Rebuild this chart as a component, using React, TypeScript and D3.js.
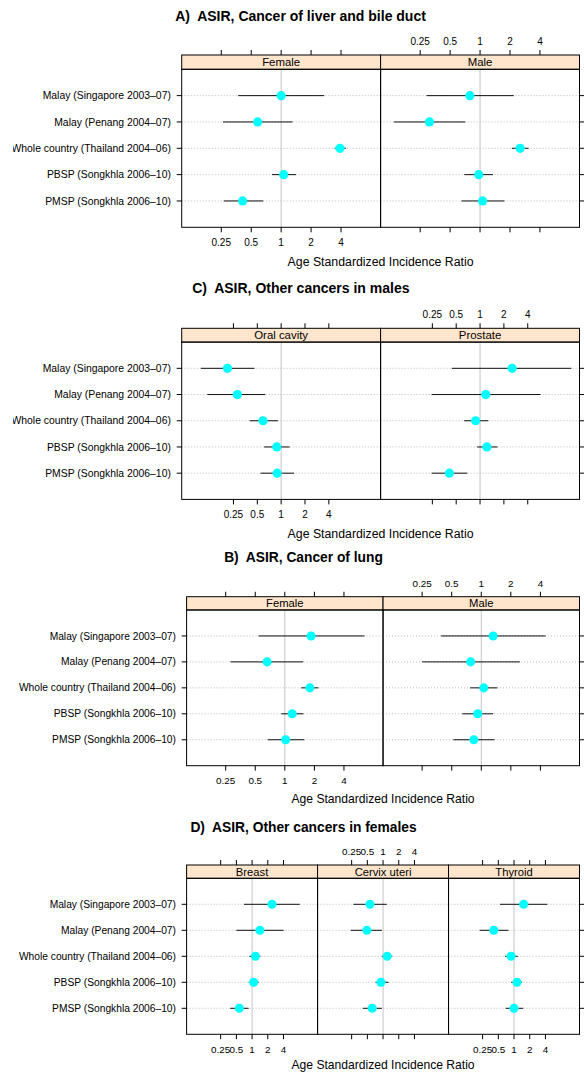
import React from 'react'
import * as d3 from 'd3'

const sites = [
  'Malay (Singapore 2003–07)',
  'Malay (Penang 2004–07)',
  'Whole country (Thailand 2004–06)',
  'PBSP (Songkhla 2006–10)',
  'PMSP (Songkhla 2006–10)'
]
const tickValues = [0.25, 0.5, 1, 2, 4]
const tickLabels = ['0.25', '0.5', '1', '2', '4']
const xLabel = 'Age Standardized Incidence Ratio'

// [estimate, lower, upper] for each site, same order as sites
const liverFemale = [[1.0, 0.37, 2.71], [0.58, 0.26, 1.3], [3.9, 3.45, 4.48], [1.06, 0.81, 1.41], [0.41, 0.265, 0.66]]
const liverMale = [[0.79, 0.29, 2.18], [0.31, 0.136, 0.71], [2.53, 2.09, 3.08], [0.97, 0.695, 1.35], [1.06, 0.65, 1.76]]
const oralCavity = [[0.21, 0.097, 0.46], [0.28, 0.117, 0.63], [0.59, 0.4, 0.91], [0.88, 0.61, 1.28], [0.89, 0.55, 1.46]]
const prostate = [[2.54, 0.44, 14.2], [1.18, 0.245, 5.8], [0.88, 0.63, 1.27], [1.22, 0.92, 1.66], [0.41, 0.245, 0.69]]
const lungFemale = [[1.85, 0.54, 6.46], [0.66, 0.28, 1.54], [1.8, 1.47, 2.2], [1.19, 0.92, 1.55], [1.02, 0.67, 1.58]]
const lungMale = [[1.32, 0.39, 4.52], [0.78, 0.25, 2.47], [1.06, 0.77, 1.46], [0.92, 0.64, 1.32], [0.84, 0.52, 1.36]]
const breast = [[2.41, 0.7, 8.2], [1.41, 0.5, 4.0], [1.16, 0.89, 1.45], [1.07, 0.86, 1.34], [0.57, 0.38, 0.86]]
const cervix = [[0.56, 0.27, 1.18], [0.49, 0.24, 0.95], [1.2, 0.95, 1.5], [0.91, 0.72, 1.28], [0.62, 0.41, 0.95]]
const thyroid = [[1.53, 0.54, 4.34], [0.41, 0.22, 0.78], [0.88, 0.67, 1.18], [1.14, 0.88, 1.43], [1.0, 0.69, 1.5]]

const FONT = '"Liberation Sans", Arial, Helvetica, sans-serif'

type Panel = { name: string, data: number[][] }

function ForestChart(props: any) {
  const { id, title, titleX, titleY, panels, domain, x0, x1, stripTop, stripH, panelH, s, clipX, xlabGap = 34 } = props
  const n = panels.length
  const pw = (x1 - x0) / n
  const panelTop = stripTop + stripH
  const bottom = panelTop + panelH

  const y = d3.scalePoint<string>().domain(sites).range([panelTop, bottom]).padding(1)
  const xs = panels.map((p: Panel, i: number) =>
    d3.scaleLog().domain(domain).range([x0 + i * pw, x0 + (i + 1) * pw])
  )
  const tk = 5 * s

  return (
    <g fontFamily={FONT}>
      <defs>
        <clipPath id={id}>
          <rect x={clipX} y={titleY - 20} width={600} height={bottom - titleY + 60} />
        </clipPath>
      </defs>
      <text x={titleX} y={titleY} dy="0.35em" textAnchor="middle" fontWeight="bold" fontSize={14 * s}
        style={{ whiteSpace: 'pre' }}>{title}</text>

      {panels.map((p: Panel, i: number) => {
        const x = xs[i]
        const left = x0 + i * pw
        const labelTop = i % 2 === 1
        return (
          <g key={p.name}>
            <line x1={x(1)} x2={x(1)} y1={panelTop} y2={bottom} stroke="#c4c4c4" strokeWidth={1} />
            {sites.map(site => (
              <line key={site} x1={left} x2={left + pw} y1={y(site)} y2={y(site)}
                stroke="#a8a8a8" strokeWidth={0.8} strokeDasharray="1 2" />
            ))}
            {p.data.map((d, j) => (
              <line key={'ci' + j} x1={x(d[1])} x2={x(d[2])} y1={y(sites[j])} y2={y(sites[j])}
                stroke="#111" strokeWidth={1} />
            ))}
            {p.data.map((d, j) => (
              <circle key={'pt' + j} cx={x(d[0])} cy={y(sites[j])} r={4.6 * s} fill="#00ffff" />
            ))}
            <rect x={left} y={stripTop} width={pw} height={stripH} fill="#ffe5cc" stroke="#000" strokeWidth={1} />
            <text x={left + pw / 2} y={stripTop + stripH / 2} dy="0.36em" textAnchor="middle" fontSize={11.4 * s}>{p.name}</text>
            <rect x={left} y={panelTop} width={pw} height={panelH} fill="none" stroke="#000" strokeWidth={1} />
            {/* top axis */}
            {tickValues.map((t, k) => (
              <g key={'top' + k}>
                <line x1={x(t)} x2={x(t)} y1={stripTop} y2={stripTop - tk} stroke="#000" />
                {labelTop && (
                  <text x={x(t)} y={stripTop - 13.5 * s} dy="0.35em" textAnchor="middle" fontSize={10 * s}>{tickLabels[k]}</text>
                )}
              </g>
            ))}
            {/* bottom axis */}
            {tickValues.map((t, k) => (
              <g key={'bot' + k}>
                <line x1={x(t)} x2={x(t)} y1={bottom} y2={bottom + tk} stroke="#000" />
                {!labelTop && (
                  <text x={x(t)} y={bottom + 15 * s} dy="0.35em" textAnchor="middle" fontSize={10 * s}>{tickLabels[k]}</text>
                )}
              </g>
            ))}
          </g>
        )
      })}

      {/* row axis, left labels and ticks on both sides */}
      <g clipPath={`url(#${id})`}>
        {sites.map(site => (
          <g key={site}>
            <line x1={x0 - tk} x2={x0} y1={y(site)} y2={y(site)} stroke="#000" />
            <line x1={x1} x2={x1 + tk} y1={y(site)} y2={y(site)} stroke="#000" />
            <text x={x0 - 10.8 * s} y={y(site)} dy="0.35em" textAnchor="end" fontSize={10.4 * s}>{site}</text>
          </g>
        ))}
      </g>

      <text x={(x0 + x1) / 2} y={bottom + xlabGap * s} dy="0.35em" textAnchor="middle" fontSize={12.3 * s}>{xLabel}</text>
    </g>
  )
}

export default function App() {
  return (
    <div style={{ position: 'absolute', left: 0, top: 0 }}>
      <svg width={584} height={1072} style={{ display: 'block', background: '#fff' }}>
        <ForestChart id="clipA" title="A)  ASIR, Cancer of liver and bile duct" titleX={300.5} titleY={16}
          panels={[{ name: 'Female', data: liverFemale }, { name: 'Male', data: liverMale }]}
          domain={[0.1, 10]} x0={181.7} x1={579.5} stripTop={55} stripH={14.3} panelH={158} s={1} clipX={13} />
        <ForestChart id="clipC" title="C)  ASIR, Other cancers in males" titleX={300.8} titleY={288.3}
          panels={[{ name: 'Oral cavity', data: oralCavity }, { name: 'Prostate', data: prostate }]}
          domain={[1 / 18, 18]} x0={181.7} x1={579.5} stripTop={328.3} stripH={13.8} panelH={157.3} s={1} clipX={13} />
        <ForestChart id="clipB" title="B)  ASIR, Cancer of lung" titleX={303.5} titleY={557.3}
          panels={[{ name: 'Female', data: lungFemale }, { name: 'Male', data: lungMale }]}
          domain={[0.1, 10]} x0={186.6} x1={579.5} stripTop={596.7} stripH={13.3} panelH={155.7} s={0.985} clipX={0} />
        <ForestChart id="clipD" title="D)  ASIR, Other cancers in females" titleX={303.5} titleY={826.7}
          panels={[{ name: 'Breast', data: breast }, { name: 'Cervix uteri', data: cervix }, { name: 'Thyroid', data: thyroid }]}
          domain={[1 / 18, 18]} x0={186.6} x1={579.5} stripTop={865} stripH={13.3} panelH={156} s={0.985} clipX={0} xlabGap={30.5} />
      </svg>
    </div>
  )
}
